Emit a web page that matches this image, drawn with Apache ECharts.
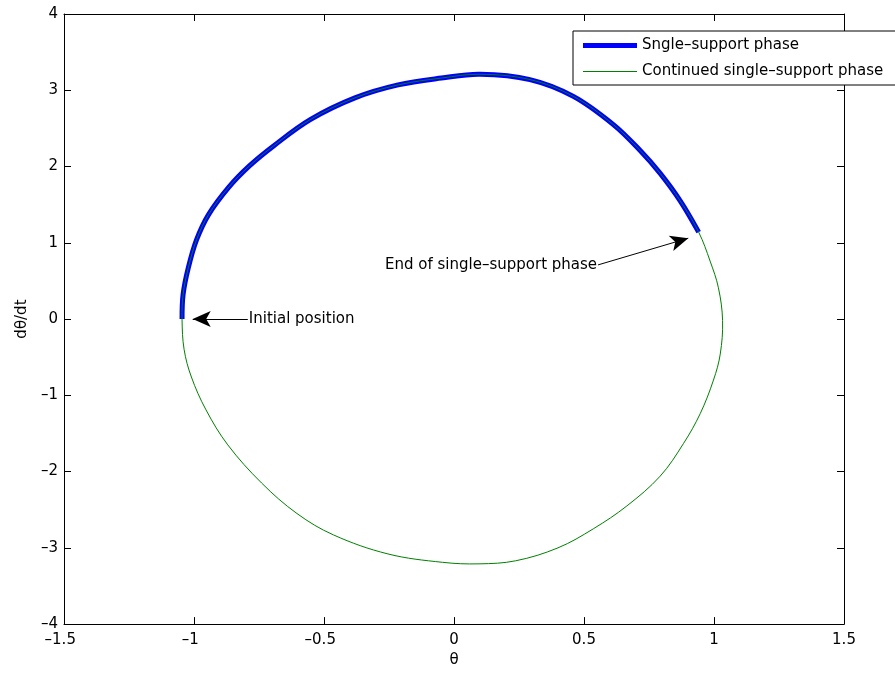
<!DOCTYPE html>
<html>
<head>
<meta charset="utf-8">
<script src="https://cdn.jsdelivr.net/npm/echarts@6/dist/echarts.min.js"></script>
<style>
  html, body { margin: 0; padding: 0; background: #fff; }
  #chart { width: 895px; height: 673px; }
</style>
</head>
<body>
<div id="chart"></div>
<script>
// Phase portrait: angle θ against angular velocity dθ/dt
const thetaSupport = [-1.046, -1.042, -1.022, -0.990, -0.944, -0.866, -0.788, -0.694, -0.553, -0.381, -0.215, -0.048, 0.100, 0.292, 0.459, 0.613, 0.716, 0.793, 0.870, 0.941];
const omegaSupport = [0.00, 0.32, 0.67, 1.04, 1.37, 1.73, 2.005, 2.27, 2.615, 2.90, 3.07, 3.16, 3.21, 3.14, 2.92, 2.55, 2.21, 1.91, 1.55, 1.14];

// Trajectory after the end of the support phase, back round to the start
const thetaAfter = [0.985, 1.017, 1.033, 1.024, 0.998, 0.947, 0.883, 0.793, 0.665, 0.536, 0.400, 0.237, 0.096, -0.044, -0.254, -0.464, -0.604, -0.740, -0.870, -0.954, -1.010, -1.038];
const omegaAfter = [0.76, 0.41, -0.02, -0.46, -0.80, -1.24, -1.63, -2.06, -2.45, -2.75, -3.00, -3.17, -3.21, -3.19, -3.08, -2.83, -2.55, -2.15, -1.65, -1.19, -0.76, -0.40];

const xTicks = [-1.5, -1, -0.5, 0, 0.5, 1, 1.5];
const yTicks = [-4, -3, -2, -1, 0, 1, 2, 3, 4];

const seriesNames = ['Sngle–support phase', 'Continued single–support phase'];
const seriesColors = ['#0000ff', '#008000'];
const seriesWidths = [5, 1];

// Annotations: text, text anchor and arrow tip (data coordinates)
const noteTexts = ['Initial position', 'End of single–support phase'];
const noteTails = [[-0.793, 0.0], [0.554, 0.71]];
const noteTips = [[-1.005, 0.0], [0.901, 1.06]];
const noteSides = ['right', 'left'];

const supportPts = thetaSupport.map((t, i) => [t, omegaSupport[i]]);
// the continued trajectory closes the loop back at the initial position
const loopPts = supportPts.concat(thetaAfter.map((t, i) => [t, omegaAfter[i]]));

const FONT = 'DejaVu Sans, Verdana, sans-serif';
const dash = v => String(v).replace('-', '–');
const SMOOTH = 0.36;

const chart = echarts.init(document.getElementById('chart'), null, { renderer: 'canvas' });

const tickStep = a => a[1] - a[0];

const baseAxis = {
  type: 'value',
  axisLine: { show: true, onZero: false, lineStyle: { color: '#000', width: 1 } },
  axisTick: { show: true, inside: true, length: 7, lineStyle: { color: '#000' } },
  splitLine: { show: false }
};

const xRange = { min: xTicks[0], max: xTicks[xTicks.length - 1], interval: tickStep(xTicks) };
const yRange = { min: yTicks[0], max: yTicks[yTicks.length - 1], interval: tickStep(yTicks) };

// A whole trajectory drawn as one smooth path in axis coordinates
function trajectorySeries(idx, pts, closed, z) {
  return {
    name: seriesNames[idx],
    type: 'custom',
    coordinateSystem: 'cartesian2d',
    data: [pts[0]],
    itemStyle: { color: seriesColors[idx] },
    silent: true,
    z: z,
    renderItem: (params, api) => ({
      type: closed ? 'polygon' : 'polyline',
      shape: { points: pts.map(p => api.coord(p)), smooth: SMOOTH },
      style: {
        fill: null,
        stroke: seriesColors[idx],
        lineWidth: seriesWidths[idx],
        lineJoin: 'round'
      }
    })
  };
}

chart.setOption({
  animation: false,
  backgroundColor: '#fff',
  grid: { left: 64, right: 51, top: 14, bottom: 44, containLabel: false },
  legend: {
    data: seriesNames.map((n, i) => ({
      name: n,
      icon: 'path://M0,0H54V' + seriesWidths[i] + 'H0Z',
      itemStyle: { color: seriesColors[i] }
    })),
    orient: 'vertical',
    left: 573,
    top: 31,
    padding: [7, 24, 6, 10],
    itemGap: 11,
    itemWidth: 54,
    itemHeight: 14,
    symbolKeepAspect: true,
    backgroundColor: '#fff',
    borderColor: '#000',
    borderWidth: 1,
    borderRadius: 0,
    textStyle: { fontFamily: FONT, fontSize: 15, color: '#000' },
    selectedMode: false
  },
  xAxis: [
    Object.assign({}, baseAxis, xRange, {
      position: 'bottom',
      name: 'θ', nameLocation: 'middle', nameGap: 24,
      nameTextStyle: { fontFamily: FONT, fontSize: 15, color: '#000' },
      axisLabel: {
        fontFamily: FONT, fontSize: 15, color: '#000', margin: 9,
        formatter: v => v < 0 ? dash(v) + '{h|–}' : String(v),
        rich: { h: { color: 'rgba(0,0,0,0)', fontFamily: FONT, fontSize: 15 } }
      }
    }),
    Object.assign({}, baseAxis, xRange, {
      position: 'top',
      axisLabel: { show: false }
    })
  ],
  yAxis: [
    Object.assign({}, baseAxis, yRange, {
      position: 'left',
      name: 'dθ/dt', nameLocation: 'middle', nameGap: 32, nameRotate: 90,
      nameTextStyle: { fontFamily: FONT, fontSize: 15, color: '#000' },
      axisLabel: { fontFamily: FONT, fontSize: 15, color: '#000', margin: 6, formatter: v => dash(v) }
    }),
    Object.assign({}, baseAxis, yRange, {
      position: 'right',
      axisLabel: { show: false }
    })
  ],
  series: [
    trajectorySeries(0, supportPts, false, 2),
    trajectorySeries(1, loopPts, true, 3),
    {
      name: 'notes',
      type: 'scatter',
      data: noteTails.map((p, i) => ({
        value: p,
        label: {
          show: true, position: noteSides[i], distance: 1,
          formatter: noteTexts[i],
          fontFamily: FONT, fontSize: 15, color: '#000', opacity: 1
        }
      })),
      symbolSize: 0,
      itemStyle: { opacity: 1 },
      silent: true,
      z: 4,
      markLine: {
        silent: true,
        symbol: ['none', 'arrow'],
        symbolSize: [12, 18],
        lineStyle: { color: '#000', width: 1, type: 'solid', opacity: 1 },
        label: { show: false },
        data: noteTails.map((p, i) => [{ coord: p }, { coord: noteTips[i] }])
      }
    }
  ]
});
</script>
</body>
</html>
